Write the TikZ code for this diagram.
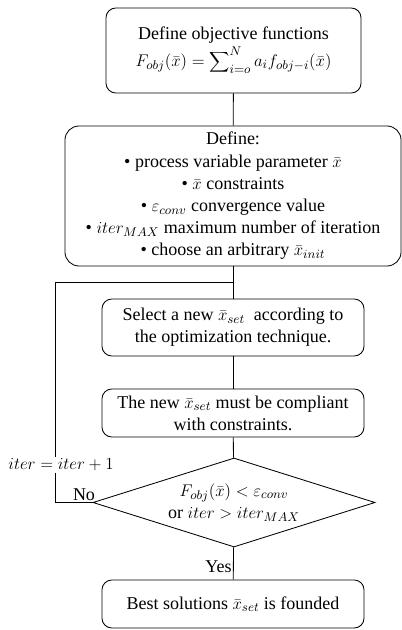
\documentclass[tikz,border=0pt]{standalone}
\usepackage{fontspec}
\setmainfont{Liberation Serif}
\usetikzlibrary{shapes.geometric,positioning}

\begin{document}
\begin{tikzpicture}[x=0.025cm,y=-0.025cm,line width=0.6pt,font=\fontsize{12.8}{15.8}\selectfont,
  box/.style={draw,rounded corners=7pt,align=center,inner sep=2pt},
  wide/.style={box,minimum width=6.55cm},
  lbl/.style={inner sep=1pt}]
\useasboundingbox (0,0) rectangle (401,630);
\node[box,minimum width=6.375cm,minimum height=2.125cm] (obj) at (233.5,50.5) {Define objective functions\\[1pt]$F_{obj}(\bar{x})=\displaystyle\sum\nolimits_{i=o}^{N}a_i f_{obj-i}(\bar{x})$};
\node[box,rounded corners=10pt,minimum width=8.4cm,minimum height=3.5cm] (def) at (233,196) {Define:\\
  \textbullet\ process variable parameter $\bar{x}$\\
  \textbullet\ $\bar{x}$ constraints\\
  \textbullet\ $\varepsilon_{conv}$ convergence value\\
  \textbullet\ $iter_{MAX}$ maximum number of iteration\\
  \textbullet\ choose an arbitrary $\bar{x}_{init}$};
\node[wide,minimum height=1.425cm] (sel) at (233,327.5) {Select a new $\bar{x}_{set}$\ \ according to\\the optimization technique.};
\node[wide,minimum height=1.2cm] (chk) at (233,413) {The new $\bar{x}_{set}$ must be compliant\\with constraints.};
\node[draw,diamond,aspect=3.17,inner sep=0pt,minimum width=7.05cm,minimum height=2.225cm,align=center] (dec) at (234,502.5) {$F_{obj}(\bar{x})<\varepsilon_{conv}$\\or $iter>iter_{MAX}$};
\node[wide,minimum height=1.2cm] (best) at (233,604) {Best solutions $\bar{x}_{set}$ is founded};
\coordinate (jn) at (233,282);
\coordinate (lp) at (55,282);
\draw (obj) -- (def);
\draw (def) -- (sel);
\draw (sel) -- (chk);
\draw (chk) -- (dec);
\draw (dec) -- node[lbl,left,pos=0.6] {Yes} (best);
\draw (dec.west) -| (lp) -- (jn);
\node[lbl,above] (no) at (84,502.5) {No};
\node[lbl,fill=white] (inc) at (61,465) {$iter=iter+1$};
\end{tikzpicture}
\end{document}
